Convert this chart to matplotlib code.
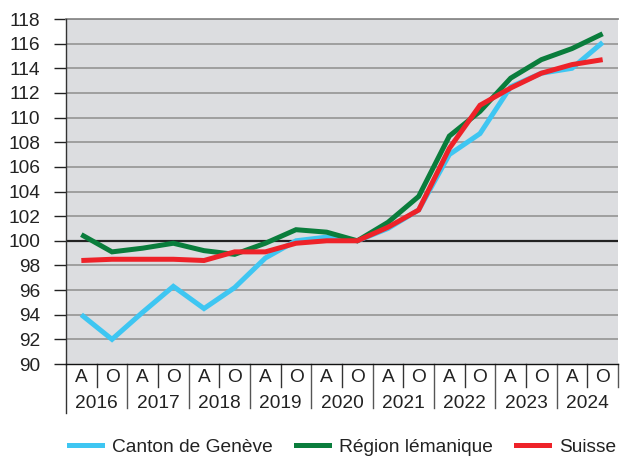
import matplotlib
matplotlib.use("Agg")
import matplotlib.pyplot as plt
import matplotlib.transforms as mtransforms
from matplotlib.lines import Line2D

plt.rcParams['font.family'] = ['Liberation Sans', 'DejaVu Sans']

years = ["2016", "2017", "2018", "2019", "2020", "2021", "2022", "2023", "2024"]
halves = ["A", "O"]

geneve = [94.0, 92.0, 94.2, 96.3, 94.5, 96.2, 98.6, 100.0, 100.3, 100.0,
          101.0, 102.5, 107.0, 108.7, 112.5, 113.6, 114.0, 116.1]
lemanique = [100.5, 99.1, 99.4, 99.8, 99.2, 98.9, 99.8, 100.9, 100.7, 100.0,
             101.5, 103.6, 108.5, 110.5, 113.2, 114.7, 115.6, 116.8]
suisse = [98.4, 98.5, 98.5, 98.5, 98.4, 99.1, 99.1, 99.8, 100.0, 100.0,
          101.1, 102.5, 107.5, 111.0, 112.4, 113.6, 114.3, 114.7]

series_names = ["Canton de Genève", "Région lémanique", "Suisse"]
colors = ["#3ec6f2", "#0a7d3c", "#ee2229"]

W, H = 620, 461
fig = plt.figure(figsize=(W / 100, H / 100), dpi=100)
left, right, top, bottom = 66, 618, 19, 364
ax = fig.add_axes([left / W, 1 - bottom / H, (right - left) / W, (bottom - top) / H])
ax.set_facecolor("#dcdde0")

fs = 13.8
n = len(geneve)
x = list(range(n))
ax.set_xlim(-0.5, n - 0.5)
ax.set_ylim(90, 118)
ax.set_yticks(range(90, 119, 2))
for yv in range(92, 119, 2):
    if yv == 100:
        ax.axhline(yv, color="#222222", lw=1.6, zorder=1)
    else:
        ax.axhline(yv, color="#9a9a9a", lw=1.3, zorder=1)

for vals, c, z in zip([geneve, lemanique, suisse], colors, [2, 3, 4]):
    ax.plot(x, vals, color=c, lw=3.6, zorder=z, solid_capstyle="butt", solid_joinstyle="miter")

for s in ["top", "right"]:
    ax.spines[s].set_visible(False)
ax.spines["left"].set_color("#333333")
ax.spines["left"].set_linewidth(1.0)
ax.spines["bottom"].set_color("#111111")
ax.spines["bottom"].set_linewidth(1.0)

ax.tick_params(axis="y", direction="out", length=8.6, width=1.0, color="#222222",
               labelsize=fs, labelcolor="#222222", pad=10)
ax.set_xticks([])

# x-axis category labels and separators
trans = mtransforms.blended_transform_factory(ax.transData, ax.transAxes)
ph = bottom - top
def ay(py):
    return (bottom - py) / ph

for i in range(n):
    ax.text(i, ay(378), halves[i % 2], transform=trans, ha="center", va="center",
            fontsize=fs, color="#222222", clip_on=False)
for j, yr in enumerate(years):
    ax.text(2 * j + 0.5, ay(403), yr, transform=trans, ha="center", va="center",
            fontsize=fs, color="#222222", clip_on=False)
    # short separator between A and O
    ax.plot([2 * j + 0.5, 2 * j + 0.5], [ay(364), ay(387)], transform=trans,
            color="#333333", lw=1.0, clip_on=False)
    # long separator after year
    xe = 2 * j + 1.5
    if j < len(years) - 1:
        ax.plot([xe, xe], [ay(364), ay(408)], transform=trans,
                color="#555555", lw=1.0, clip_on=False)
    else:
        ax.plot([xe, xe], [ay(364), ay(387)], transform=trans,
                color="#555555", lw=1.0, clip_on=False)
ax.plot([-0.5, -0.5], [ay(364), ay(413)], transform=trans,
        color="#333333", lw=1.0, clip_on=False)
# top border line
ax.plot([-0.5, n - 0.5], [1, 1], transform=trans, color="#8a8a8a", lw=1.3, clip_on=False)

handles = [Line2D([0], [0], color=c, lw=3.6) for c in colors]
fig.legend(handles, series_names, loc="center", bbox_to_anchor=(0.553, 1 - 447 / H),
           ncol=3, frameon=False, fontsize=fs, handlelength=1.7, handletextpad=0.55,
           columnspacing=1.2, labelcolor="#222222")

fig.savefig("out.png", dpi=100)
